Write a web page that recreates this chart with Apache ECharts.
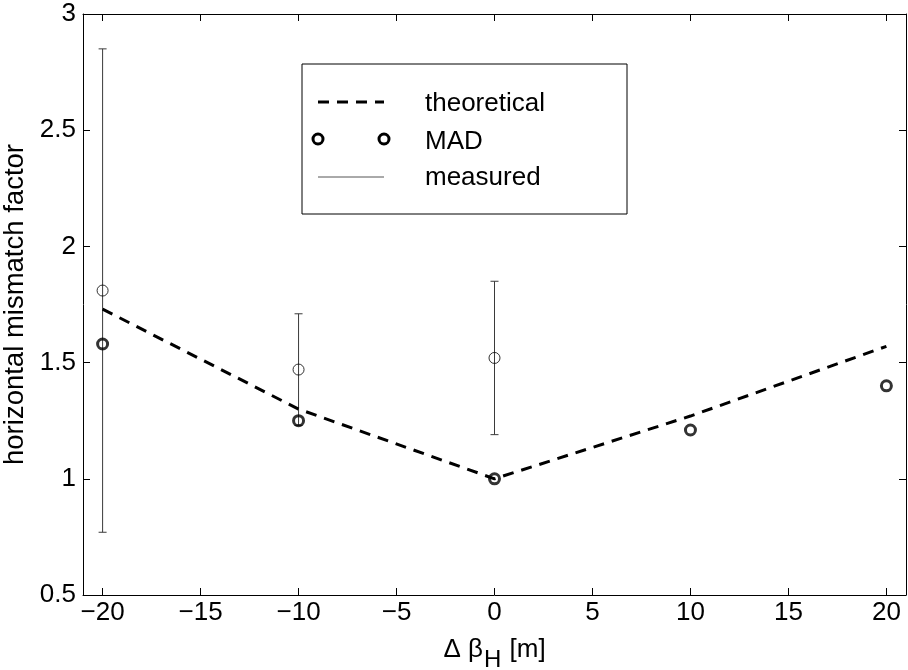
<!DOCTYPE html>
<html>
<head>
<meta charset="utf-8">
<script src="https://cdn.jsdelivr.net/npm/echarts@6/dist/echarts.min.js"></script>
<style>html,body{margin:0;padding:0;background:#fff}#c{width:908px;height:670px}</style>
</head>
<body>
<div id="c"></div>
<script>
// ---- data ----
const xPositions = [-20, -10, 0, 10, 20];
const theoretical = [1.73, 1.30, 1.00, 1.27, 1.57];
const mad = [1.58, 1.25, 1.00, 1.21, 1.40];
const measuredX = [-20, -10, 0];
const measuredVal = [1.81, 1.47, 1.52];
const measuredLow = [0.77, 1.23, 1.19];
const measuredHigh = [2.85, 1.71, 1.85];
const xTicks = [-20, -15, -10, -5, 0, 5, 10, 15, 20];
const yTicks = [0.5, 1, 1.5, 2, 2.5, 3];

const FONT = 'Liberation Sans, Arial, Helvetica, sans-serif';
const chart = echarts.init(document.getElementById('c'), null, {renderer: 'canvas'});

const fmtX = v => String(v).replace('-', '\u2212');

const theoData = xPositions.map((x, i) => [x, theoretical[i]]);
const madData = xPositions.map((x, i) => [x, mad[i]]);
const measData = measuredX.map((x, i) => [x, measuredVal[i]]);
const errData = measuredX.map((x, i) => [x, measuredLow[i], measuredHigh[i]]);

const baseX = {
  type: 'value', min: -21, max: 21,
  axisLine: {show: true, onZero: false, lineStyle: {color: '#000', width: 1}},
  splitLine: {show: false},
  axisTick: {show: true, inside: true, length: 7, lineStyle: {color: '#000'}, customValues: xTicks},
};
const baseY = {
  type: 'value', min: 0.5, max: 3, interval: 0.5,
  axisLine: {show: true, onZero: false, lineStyle: {color: '#000', width: 1}},
  splitLine: {show: false},
  axisTick: {show: true, inside: true, length: 7, lineStyle: {color: '#000'}},
};

const option = {
  animation: false,
  backgroundColor: '#fff',
  grid: {left: 83, right: 2, top: 14, bottom: 75, containLabel: false, outerBoundsMode: 'none'},
  xAxis: [
    Object.assign({}, baseX, {
      position: 'bottom',
      axisLabel: {show: true, customValues: xTicks, formatter: fmtX, color: '#000', fontFamily: FONT, fontSize: 26, margin: 5},
      name: '{n|\u0394 \u03b2}{s|H}{n| [m]}',
      nameLocation: 'middle', nameGap: 33,
      nameTextStyle: {
        rich: {
          n: {fontFamily: FONT, fontSize: 26, color: '#000'},
          s: {fontFamily: FONT, fontSize: 24, color: '#000', padding: [20, 1, 0, 1]}
        }
      }
    }),
    Object.assign({}, baseX, {position: 'top', axisLabel: {show: false}})
  ],
  yAxis: [
    Object.assign({}, baseY, {
      position: 'left',
      axisLabel: {show: true, color: '#000', fontFamily: FONT, fontSize: 26, margin: 7},
      name: 'horizontal mismatch factor',
      nameLocation: 'middle', nameGap: 45, nameRotate: 90,
      nameTextStyle: {fontFamily: FONT, fontSize: 27.5, color: '#000'}
    }),
    Object.assign({}, baseY, {position: 'right', axisLabel: {show: false}})
  ],
  series: [
    {
      name: 'theoretical', type: 'line', data: theoData, symbol: 'none',
      lineStyle: {color: '#000', width: 3, type: [11, 8]}, z: 3
    },
    {
      name: 'MAD', type: 'scatter', data: madData, symbol: 'circle', symbolSize: 10,
      itemStyle: {color: 'rgba(255,255,255,0)', borderColor: '#000', borderWidth: 3}, z: 4
    },
    {
      name: 'measured', type: 'custom', data: errData,
      encode: {x: 0, y: [1, 2]},
      renderItem: function (params, api) {
        const x = api.value(0), lo = api.value(1), hi = api.value(2);
        const a = api.coord([x, hi]), b = api.coord([x, lo]);
        const w = 4;
        const st = {stroke: '#3a3a3a', lineWidth: 1};
        return {
          type: 'group', children: [
            {type: 'line', shape: {x1: a[0], y1: a[1], x2: b[0], y2: b[1]}, style: st},
            {type: 'line', shape: {x1: a[0] - w, y1: a[1], x2: a[0] + w, y2: a[1]}, style: st},
            {type: 'line', shape: {x1: b[0] - w, y1: b[1], x2: b[0] + w, y2: b[1]}, style: st}
          ]
        };
      }, z: 2
    },
    {
      name: 'measuredPts', type: 'scatter', data: measData, symbol: 'circle', symbolSize: 11,
      itemStyle: {color: 'rgba(255,255,255,0)', borderColor: '#000', borderWidth: 1}, z: 4
    }
  ],
  graphic: [
    {type: 'rect', shape: {x: 302, y: 64, width: 325, height: 150}, style: {fill: '#fff', stroke: '#000', lineWidth: 1}, z: 100},
    {type: 'line', shape: {x1: 318, y1: 102, x2: 384, y2: 102}, style: {stroke: '#000', lineWidth: 3, lineDash: [11, 8]}, z: 101},
    {type: 'circle', shape: {cx: 318, cy: 139, r: 5}, style: {fill: 'none', stroke: '#000', lineWidth: 3}, z: 101},
    {type: 'circle', shape: {cx: 384, cy: 139, r: 5}, style: {fill: 'none', stroke: '#000', lineWidth: 3}, z: 101},
    {type: 'line', shape: {x1: 318, y1: 177, x2: 384, y2: 177}, style: {stroke: '#555', lineWidth: 1}, z: 101},
    {type: 'text', x: 425, y: 104, style: {text: 'theoretical', fontFamily: FONT, fontSize: 26, fill: '#000', verticalAlign: 'middle'}, z: 101},
    {type: 'text', x: 425, y: 142, style: {text: 'MAD', fontFamily: FONT, fontSize: 26, fill: '#000', verticalAlign: 'middle'}, z: 101},
    {type: 'text', x: 425, y: 178, style: {text: 'measured', fontFamily: FONT, fontSize: 26, fill: '#000', verticalAlign: 'middle'}, z: 101}
  ]
};
chart.setOption(option);
</script>
</body>
</html>
